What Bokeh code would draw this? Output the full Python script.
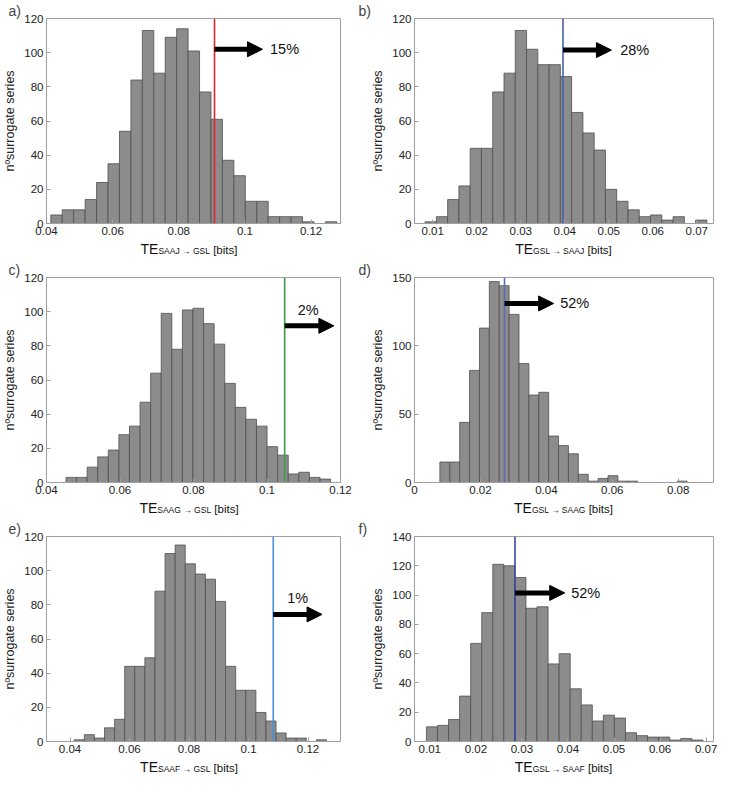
import numpy as np
from bokeh.plotting import figure
from bokeh.layouts import column, row
from bokeh.models import Span, Arrow, NormalHead, Label, FixedTicker, Range1d, Div
from bokeh.embed import file_html
from bokeh.resources import INLINE

# ---------------- data ----------------
panel_tags = ["a)", "b)", "c)", "d)", "e)", "f)"]
sub_labels = ["SAAJ → GSL", "GSL → SAAJ", "SAAG → GSL", "GSL → SAAG", "SAAF → GSL", "GSL → SAAF"]

a_counts = [5, 8, 8, 14, 24, 35, 54, 84, 113, 88, 109, 114, 101, 77, 61, 37, 28, 13, 13, 4, 4, 4, 1, 0, 1]
b_counts = [1, 4, 14, 22, 44, 44, 77, 88, 113, 102, 93, 93, 86, 65, 53, 43, 20, 13, 8, 4, 5, 2, 4, 0, 2]
c_counts = [3, 3, 9, 15, 19, 28, 33, 47, 64, 99, 78, 101, 102, 93, 81, 58, 44, 37, 33, 21, 16, 5, 6, 3, 2]
d_counts = [15, 15, 44, 82, 113, 147, 144, 123, 87, 64, 66, 34, 27, 21, 6, 1, 3, 5, 1, 1, 0, 0, 0, 0, 1]
e_counts = [1, 4, 2, 8, 13, 44, 44, 49, 88, 110, 115, 104, 98, 95, 82, 44, 30, 30, 17, 12, 5, 2, 2, 0, 1]
f_counts = [10, 11, 15, 31, 67, 88, 121, 120, 112, 91, 92, 53, 60, 36, 25, 14, 18, 16, 6, 4, 3, 3, 1, 2, 1]
all_counts = [a_counts, b_counts, c_counts, d_counts, e_counts, f_counts]

bin_lo = [0.0413, 0.00827, 0.0453, 0.0077, 0.04142, 0.00927]
bin_hi = [0.1278, 0.0723, 0.1173, 0.0827, 0.1262, 0.0693]
observed_te = [0.0908, 0.0396, 0.1048, 0.0273, 0.1083, 0.0285]
pct_above = ["15%", "28%", "2%", "52%", "1%", "52%"]

x_lo = [0.04, 0.00586, 0.04, 0.0, 0.0321, 0.00668]
x_hi = [0.1289, 0.0738, 0.12, 0.0907, 0.1309, 0.0716]
x_ticks = [
    [0.04, 0.06, 0.08, 0.1, 0.12],
    [0.01, 0.02, 0.03, 0.04, 0.05, 0.06, 0.07],
    [0.04, 0.06, 0.08, 0.1, 0.12],
    [0.0, 0.02, 0.04, 0.06, 0.08],
    [0.04, 0.06, 0.08, 0.1, 0.12],
    [0.01, 0.02, 0.03, 0.04, 0.05, 0.06, 0.07],
]
x_tick_labels = [
    ["0.04", "0.06", "0.08", "0.1", "0.12"],
    ["0.01", "0.02", "0.03", "0.04", "0.05", "0.06", "0.07"],
    ["0.04", "0.06", "0.08", "0.1", "0.12"],
    ["0", "0.02", "0.04", "0.06", "0.08"],
    ["0.04", "0.06", "0.08", "0.1", "0.12"],
    ["0.01", "0.02", "0.03", "0.04", "0.05", "0.06", "0.07"],
]
y_hi = [120, 120, 120, 150, 120, 140]
y_ticks = [
    [0, 20, 40, 60, 80, 100, 120],
    [0, 20, 40, 60, 80, 100, 120],
    [0, 20, 40, 60, 80, 100, 120],
    [0, 50, 100, 150],
    [0, 20, 40, 60, 80, 100, 120],
    [0, 20, 40, 60, 80, 100, 120, 140],
]

# ---------------- styling / annotation placement ----------------
line_colors = ["#e0262b", "#4b5fae", "#3d9a4a", "#5b6bb5", "#4a90d9", "#3848a0"]
arrow_len = [0.0145, 0.0110, 0.0134, 0.0149, 0.0164, 0.0108]
arrow_y = [102, 101.5, 91.7, 131, 74.4, 101.5]
pct_x = [0.1076, 0.0526, 0.1112, 0.0442, 0.1165, 0.0407]
pct_y = [102, 101.5, 101, 131, 84, 101.5]
pct_align = ["left", "left", "center", "left", "center", "left"]

FONT = "Liberation Sans"


def make_panel(i, left_col):
    counts = np.array(all_counts[i], dtype=float)
    edges = np.linspace(bin_lo[i], bin_hi[i], len(counts) + 1)
    if left_col:
        w, bl, br = 358, 38, 18
    else:
        w, bl, br = 359, 56, 4
    fig_h = 241
    p = figure(width=w, height=fig_h, output_backend="svg", toolbar_location=None,
               x_range=Range1d(x_lo[i], x_hi[i]), y_range=Range1d(0, y_hi[i]),
               min_border_left=bl, min_border_right=br, min_border_top=16,
               min_border_bottom=18, title=panel_tags[i])
    p.title.align = "left"
    p.title.offset = -bl
    p.title.text_font = FONT
    p.title.text_font_size = "14px"
    p.title.text_font_style = "normal"
    p.title.standoff = 0
    p.grid.visible = False
    p.outline_line_color = "#a0a0a0"
    p.background_fill_color = "white"
    p.border_fill_color = "white"

    p.quad(left=edges[:-1], right=edges[1:], bottom=0, top=counts,
           fill_color="#8c8c8c", line_color="#4f4f4f", line_width=0.8)

    p.xaxis.ticker = FixedTicker(ticks=x_ticks[i])
    p.xaxis.major_label_overrides = {t: l for t, l in zip(x_ticks[i], x_tick_labels[i])}
    p.yaxis.ticker = FixedTicker(ticks=y_ticks[i])
    p.yaxis.axis_label = "nºsurrogate series"
    for ax in (p.xaxis, p.yaxis):
        ax.major_tick_in = 4
        ax.major_tick_out = 0
        ax.minor_tick_line_color = None
        ax.axis_line_color = "#a0a0a0"
        ax.major_tick_line_color = "#a0a0a0"
        ax.major_label_text_font = FONT
        ax.major_label_text_font_size = "11.5px"
        ax.major_label_text_color = "#222222"
        ax.major_label_standoff = 3
    p.yaxis.axis_label_text_font = FONT
    p.yaxis.axis_label_text_font_size = "12.5px"
    p.yaxis.axis_label_text_font_style = "normal"
    p.yaxis.axis_label_text_color = "#222222"
    p.yaxis.axis_label_standoff = 4

    # observed value line
    p.add_layout(Span(location=observed_te[i], dimension="height",
                      line_color=line_colors[i], line_width=1.6))
    # arrow
    p.add_layout(Arrow(end=NormalHead(size=15, fill_color="black", line_color="black"),
                       x_start=observed_te[i], y_start=arrow_y[i],
                       x_end=observed_te[i] + arrow_len[i], y_end=arrow_y[i],
                       line_color="black", line_width=5))
    p.add_layout(Label(x=pct_x[i], y=pct_y[i], text=pct_above[i], text_align=pct_align[i],
                       text_baseline="middle", text_font=FONT, text_font_size="14.5px",
                       text_color="#111111"))

    # composite x-axis label: TE_{sub} [bits]
    fw = w - bl - br
    html = (
        f'<div style="width:{fw}px;margin-left:{bl}px;text-align:center;'
        f"font-family:'{FONT}',sans-serif;color:#111;white-space:nowrap;line-height:17px;\">"
        f'<span style="font-size:14px">TE</span>'
        f'<span style="font-size:8.5px">{sub_labels[i]}</span>'
        f'<span style="font-size:11.5px"> [bits]</span></div>'
    )
    d = Div(text=html, width=w, height=18, margin=(0, 0, 0, 0))
    return column(p, d, spacing=0)


rows = []
for r in range(3):
    rows.append(row(make_panel(2 * r, True), make_panel(2 * r + 1, False), spacing=0))
layout = column(*rows, spacing=0)

open("out.html", "w").write(file_html(layout, INLINE))
